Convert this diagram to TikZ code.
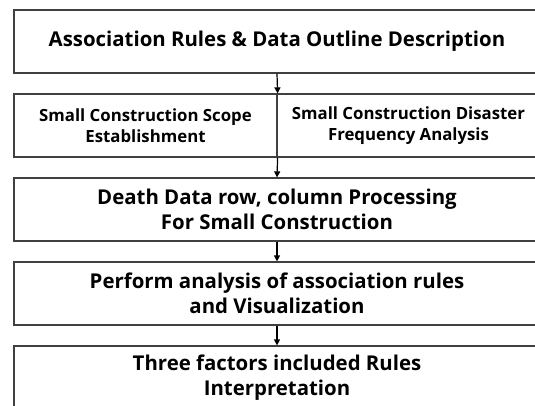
\documentclass[tikz,border=0pt]{standalone}
\usepackage{fontspec}
\setmainfont{Open Sans}
\usetikzlibrary{arrows.meta}
\begin{document}
\begin{tikzpicture}[x=1pt,y=-1pt,
  stepbox/.style={draw=black!75, line width=1.2pt, minimum height=63pt,
    inner sep=0pt, align=center, font=\bfseries\fontsize{20.4}{24.5}\selectfont},
  halfbox/.style={stepbox, minimum width=263pt, font=\bfseries\fontsize{16.8}{21}\selectfont},
  widebox/.style={stepbox, minimum width=526pt},
  flow/.style={draw=black, line width=1.2pt, -{Triangle[length=6pt,width=6pt]}}]
\path[use as bounding box] (0,0) rectangle (535,405);
\clip (0,0) rectangle (535,405);
\fill[white] (0,0) rectangle (535,405);
% flow chart boxes
\node[widebox] (outline) at (277,41.5) {Association Rules \& Data Outline Description};
\node[halfbox] (scope) at (145.5,125.5) {Small Construction Scope\\Establishment};
\node[halfbox] (freq) at (408.5,125.5) {Small Construction Disaster\\Frequency Analysis};
\node[widebox] (death) at (277,209.5) {Death Data row, column Processing\\For Small Construction};
\node[widebox] (assoc) at (277,293.5) {Perform analysis of association rules\\and Visualization};
\node[widebox] (three) at (277,377.5) {Three factors included Rules\\Interpretation};
% connectors
\draw[flow] (outline.south) -- (scope.north east);
\draw[flow] (scope.south east) -- (death.north);
\draw[flow] (death.south) -- (assoc.north);
\draw[flow] (assoc.south) -- (three.north);
\end{tikzpicture}
\end{document}
